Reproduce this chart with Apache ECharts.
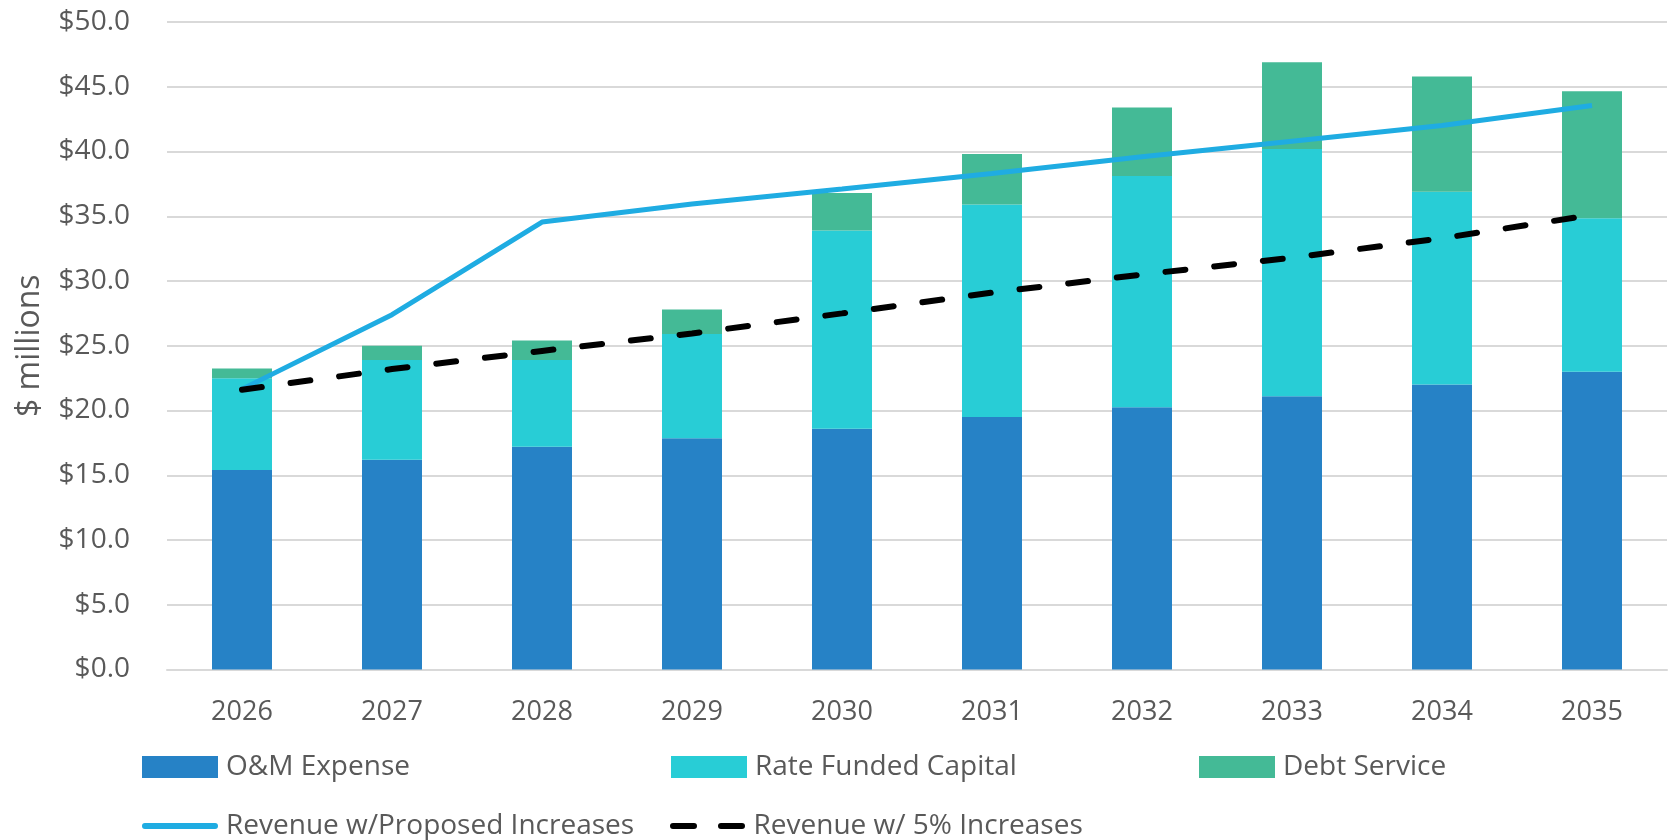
<!DOCTYPE html>
<html>
<head>
<meta charset="utf-8">
<script src="https://cdn.jsdelivr.net/npm/echarts@6/dist/echarts.min.js"></script>
<style>
	html, body { margin: 0; padding: 0; background: #fff; }
	#chart { width: 1680px; height: 840px; }
</style>
</head>
<body>
<div id="chart"></div>
<script>
	// 年份
	var years = ['2026', '2027', '2028', '2029', '2030', '2031', '2032', '2033', '2034', '2035'];
	// 堆叠柱（$ millions）
	var omExpense = [15.4, 16.2, 17.2, 17.85, 18.6, 19.5, 20.25, 21.1, 22.0, 23.0];
	var rateFundedCapital = [7.1, 7.7, 6.7, 8.05, 15.3, 16.4, 17.85, 19.1, 14.9, 11.85];
	var debtService = [0.75, 1.1, 1.5, 1.9, 2.9, 3.9, 5.3, 6.7, 8.9, 9.8];
	// 收入线
	var revenueProposed = [21.65, 27.4, 34.55, 35.95, 37.1, 38.3, 39.6, 40.8, 42.0, 43.55];
	var revenue5pct = [21.6, 23.2, 24.6, 25.95, 27.5, 29.1, 30.5, 31.8, 33.3, 35.1];
	// y轴刻度
	var yMin = 0, yMax = 50, yStep = 5;

	var textColor = '#595959';
	var font = 'Open Sans';
	// 图例里的线条图标
	var solidIcon = 'path://M3,0 h72 a3,3 0 0 1 0,6 h-72 a3,3 0 0 1 0,-6 z';
	var dashIcon = 'path://M3,0 h21 a3,3 0 0 1 0,6 h-21 a3,3 0 0 1 0,-6 z M51,0 h21 a3,3 0 0 1 0,6 h-21 a3,3 0 0 1 0,-6 z';

	function legendAt(name, left, top, icon, h) {
		return {
			data: [{ name: name, icon: icon }],
			left: left,
			top: top,
			itemWidth: 76,
			itemHeight: h,
			itemGap: 0,
			padding: 0,
			textStyle: { color: textColor, fontSize: 28, fontFamily: font, padding: [0, 0, 0, 3] }
		};
	}

	var chart = echarts.init(document.getElementById('chart'));
	chart.setOption({
		animation: false,
		grid: { left: 167, right: 13, top: 22, bottom: 170.5 },
		legend: [
			legendAt('O&M Expense', 142, 753, 'rect', 22),
			legendAt('Rate Funded Capital', 671, 753, 'rect', 22),
			legendAt('Debt Service', 1199, 753, 'rect', 22),
			legendAt('Revenue w/Proposed Increases', 142, 812, solidIcon, 6),
			legendAt('Revenue w/ 5% Increases', 670, 812, dashIcon, 6)
		],
		xAxis: {
			type: 'category',
			data: years,
			axisTick: { show: false },
			axisLine: { lineStyle: { color: '#D9D9D9', width: 2 } },
			axisLabel: { color: textColor, fontSize: 27, fontFamily: font, margin: 29 }
		},
		yAxis: {
			type: 'value',
			min: yMin,
			max: yMax,
			interval: yStep,
			name: '$ millions',
			nameLocation: 'middle',
			nameGap: 121,
			nameTextStyle: { color: textColor, fontSize: 32, fontFamily: font },
			axisLine: { show: false },
			axisTick: { show: false },
			splitLine: { lineStyle: { color: '#D9D9D9', width: 2 } },
			axisLabel: {
				color: textColor, fontSize: 28, fontFamily: font, margin: 37,
				formatter: function (v) { return '$' + v.toFixed(1); }
			}
		},
		series: [
			{ name: 'O&M Expense', type: 'bar', stack: 'cost', data: omExpense, barWidth: 60, itemStyle: { color: '#2682C6' } },
			{ name: 'Rate Funded Capital', type: 'bar', stack: 'cost', data: rateFundedCapital, barWidth: 60, itemStyle: { color: '#28CDD6' } },
			{ name: 'Debt Service', type: 'bar', stack: 'cost', data: debtService, barWidth: 60, itemStyle: { color: '#44BA96' } },
			{
				name: 'Revenue w/Proposed Increases', type: 'line', data: revenueProposed,
				symbol: 'none', lineStyle: { color: '#1FACE2', width: 5 }, itemStyle: { color: '#1FACE2' }
			},
			{
				name: 'Revenue w/ 5% Increases', type: 'line', data: revenue5pct,
				symbol: 'none', itemStyle: { color: '#000' },
				lineStyle: { color: '#000', width: 6, type: [20, 29], cap: 'round' }
			}
		]
	});
</script>
</body>
</html>
